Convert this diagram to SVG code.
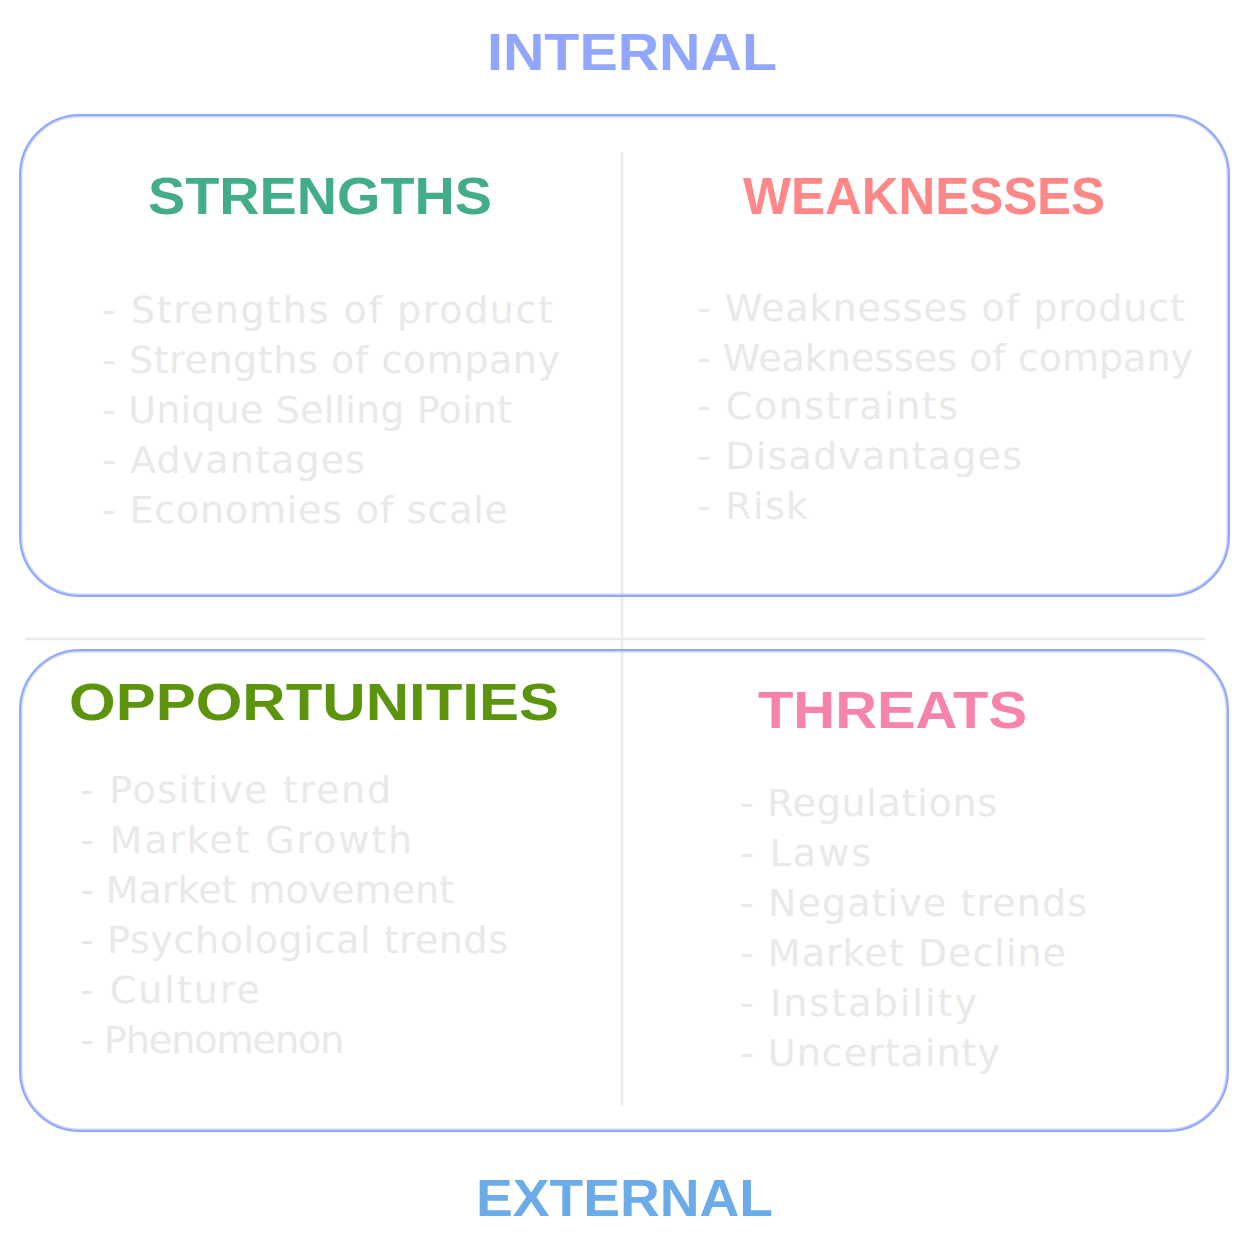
<svg xmlns="http://www.w3.org/2000/svg" width="1248" height="1255" viewBox="0 0 1248 1255">
<style>
.frame{fill:none;stroke:#91a7ff;stroke-width:2}
.divider{fill:none;stroke:#e9ecef;stroke-width:2.5}
.title{font-family:"Liberation Sans",Arial,sans-serif;font-weight:bold;font-size:52px}
.item{font-family:"DejaVu Sans","Liberation Sans",sans-serif;font-size:38px;fill:#e9e9e9}
</style>
<rect width="1248" height="1255" fill="#ffffff"/>
<g id="dividers">
<line class="divider" x1="622" y1="152" x2="622" y2="1106"/>
<line class="divider" x1="25" y1="639" x2="1205" y2="639"/>
</g>
<g id="internal-frame">
<rect class="frame" x="20" y="115" width="1209" height="481" rx="60" ry="60"/>
<rect class="frame" x="21.5" y="116.5" width="1206" height="478" rx="58" ry="58" stroke-opacity="0.5"/>
</g>
<g id="external-frame">
<rect class="frame" x="20" y="650" width="1208" height="481" rx="60" ry="60"/>
<rect class="frame" x="21.5" y="651.5" width="1205" height="478" rx="58" ry="58" stroke-opacity="0.5"/>
</g>
<g id="label-internal">
<text class="title" x="487" y="70" textLength="290" lengthAdjust="spacingAndGlyphs" fill="#91a7ff">INTERNAL</text>
</g>
<g id="label-external">
<text class="title" x="476" y="1216" textLength="297" lengthAdjust="spacingAndGlyphs" fill="#6aabe8">EXTERNAL</text>
</g>
<g id="strengths">
<text class="title" x="148" y="214" textLength="344" lengthAdjust="spacingAndGlyphs" fill="#43ac8a">STRENGTHS</text>
<text class="item" x="102" y="323" textLength="451" lengthAdjust="spacing">- Strengths of product</text>
<text class="item" x="102" y="373" textLength="458" lengthAdjust="spacing">- Strengths of company</text>
<text class="item" x="102" y="423" textLength="410" lengthAdjust="spacing">- Unique Selling Point</text>
<text class="item" x="102" y="473" textLength="263" lengthAdjust="spacing">- Advantages</text>
<text class="item" x="102" y="523" textLength="406" lengthAdjust="spacing">- Economies of scale</text>
</g>
<g id="weaknesses">
<text class="title" x="743" y="214" textLength="362" lengthAdjust="spacingAndGlyphs" fill="#ff8787">WEAKNESSES</text>
<text class="item" x="697" y="321" textLength="488" lengthAdjust="spacing">- Weaknesses of product</text>
<text class="item" x="697" y="371">- Weaknesses of company</text>
<text class="item" x="697" y="419" textLength="261" lengthAdjust="spacing">- Constraints</text>
<text class="item" x="697" y="469" textLength="325" lengthAdjust="spacing">- Disadvantages</text>
<text class="item" x="697" y="519" textLength="111" lengthAdjust="spacing">- Risk</text>
</g>
<g id="opportunities">
<text class="title" x="69" y="720" textLength="490" lengthAdjust="spacingAndGlyphs" fill="#5c940d">OPPORTUNITIES</text>
<text class="item" x="80" y="803" textLength="311" lengthAdjust="spacing">- Positive trend</text>
<text class="item" x="80" y="853" textLength="332" lengthAdjust="spacing">- Market Growth</text>
<text class="item" x="80" y="903">- Market movement</text>
<text class="item" x="80" y="953" textLength="428" lengthAdjust="spacing">- Psychological trends</text>
<text class="item" x="80" y="1003" textLength="180" lengthAdjust="spacing">- Culture</text>
<text class="item" x="80" y="1053" letter-spacing="-1">- Phenomenon</text>
</g>
<g id="threats">
<text class="title" x="758" y="728" textLength="269" lengthAdjust="spacingAndGlyphs" fill="#f783ac">THREATS</text>
<text class="item" x="740" y="816" textLength="257" lengthAdjust="spacing">- Regulations</text>
<text class="item" x="740" y="866" textLength="131" lengthAdjust="spacing">- Laws</text>
<text class="item" x="740" y="916" textLength="347" lengthAdjust="spacing">- Negative trends</text>
<text class="item" x="740" y="966" textLength="326" lengthAdjust="spacing">- Market Decline</text>
<text class="item" x="740" y="1016" textLength="237" lengthAdjust="spacing">- Instability</text>
<text class="item" x="740" y="1066" textLength="260" lengthAdjust="spacing">- Uncertainty</text>
</g>
</svg>
